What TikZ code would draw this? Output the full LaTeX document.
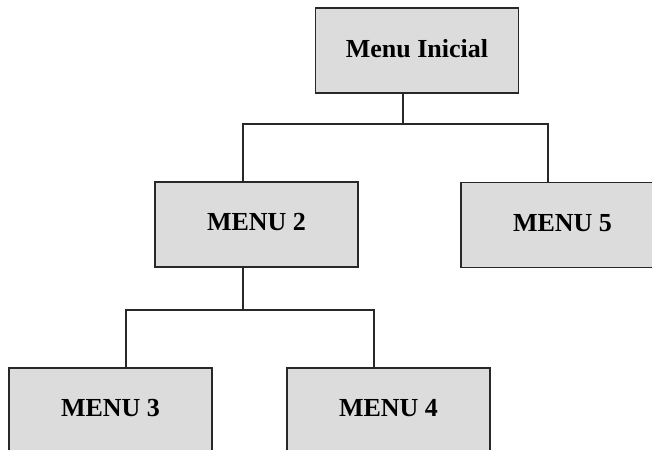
\documentclass[tikz,border=0pt]{standalone}
\usepackage{fontspec}
\setmainfont{Liberation Serif}
\usepackage{xcolor}
\usetikzlibrary{positioning}

\definecolor{boxgray}{RGB}{220,220,220}
\definecolor{linegray}{RGB}{40,40,40}

\tikzset{
  menubox/.style={rectangle, draw=linegray, fill=boxgray, line width=0.9pt,
    minimum width=152.25pt, minimum height=63.75pt, inner sep=0pt,
    text depth=3.5pt, font=\fontsize{19.5}{22}\selectfont\bfseries},
  link/.style={draw=linegray, line width=0.9pt}
}

\begin{document}
\begin{tikzpicture}[x=0.75pt, y=-0.75pt]
\clip (0,0) rectangle (652,449);
\fill[white] (0,0) rectangle (652,449);

% Boxes
\node[menubox] (ini) at (417,50.5) {Menu Inicial};
\node[menubox] (menu2) at (256.5,224.5) {MENU 2};
\node[menubox] (menu5) at (562.5,225) {MENU 5};
\node[menubox] (menu3) at (110.5,410.5) {MENU 3};
\node[menubox] (menu4) at (388.5,410.5) {MENU 4};

% Junctions
\coordinate (bus1) at (403,124);
\coordinate (bus2) at (243,310);

% Connectors
\draw[link] (ini.south -| bus1) -- (bus1);
\draw[link] (bus1) -| ([xshift=-10.1pt]menu2.north);
\draw[link] (bus1) -| ([xshift=-10.9pt]menu5.north);

\draw[link] (menu2.south -| bus2) -- (bus2);
\draw[link] (bus2) -| ([xshift=11.6pt]menu3.north);
\draw[link] (bus2) -| ([xshift=-10.9pt]menu4.north);

\end{tikzpicture}
\end{document}
